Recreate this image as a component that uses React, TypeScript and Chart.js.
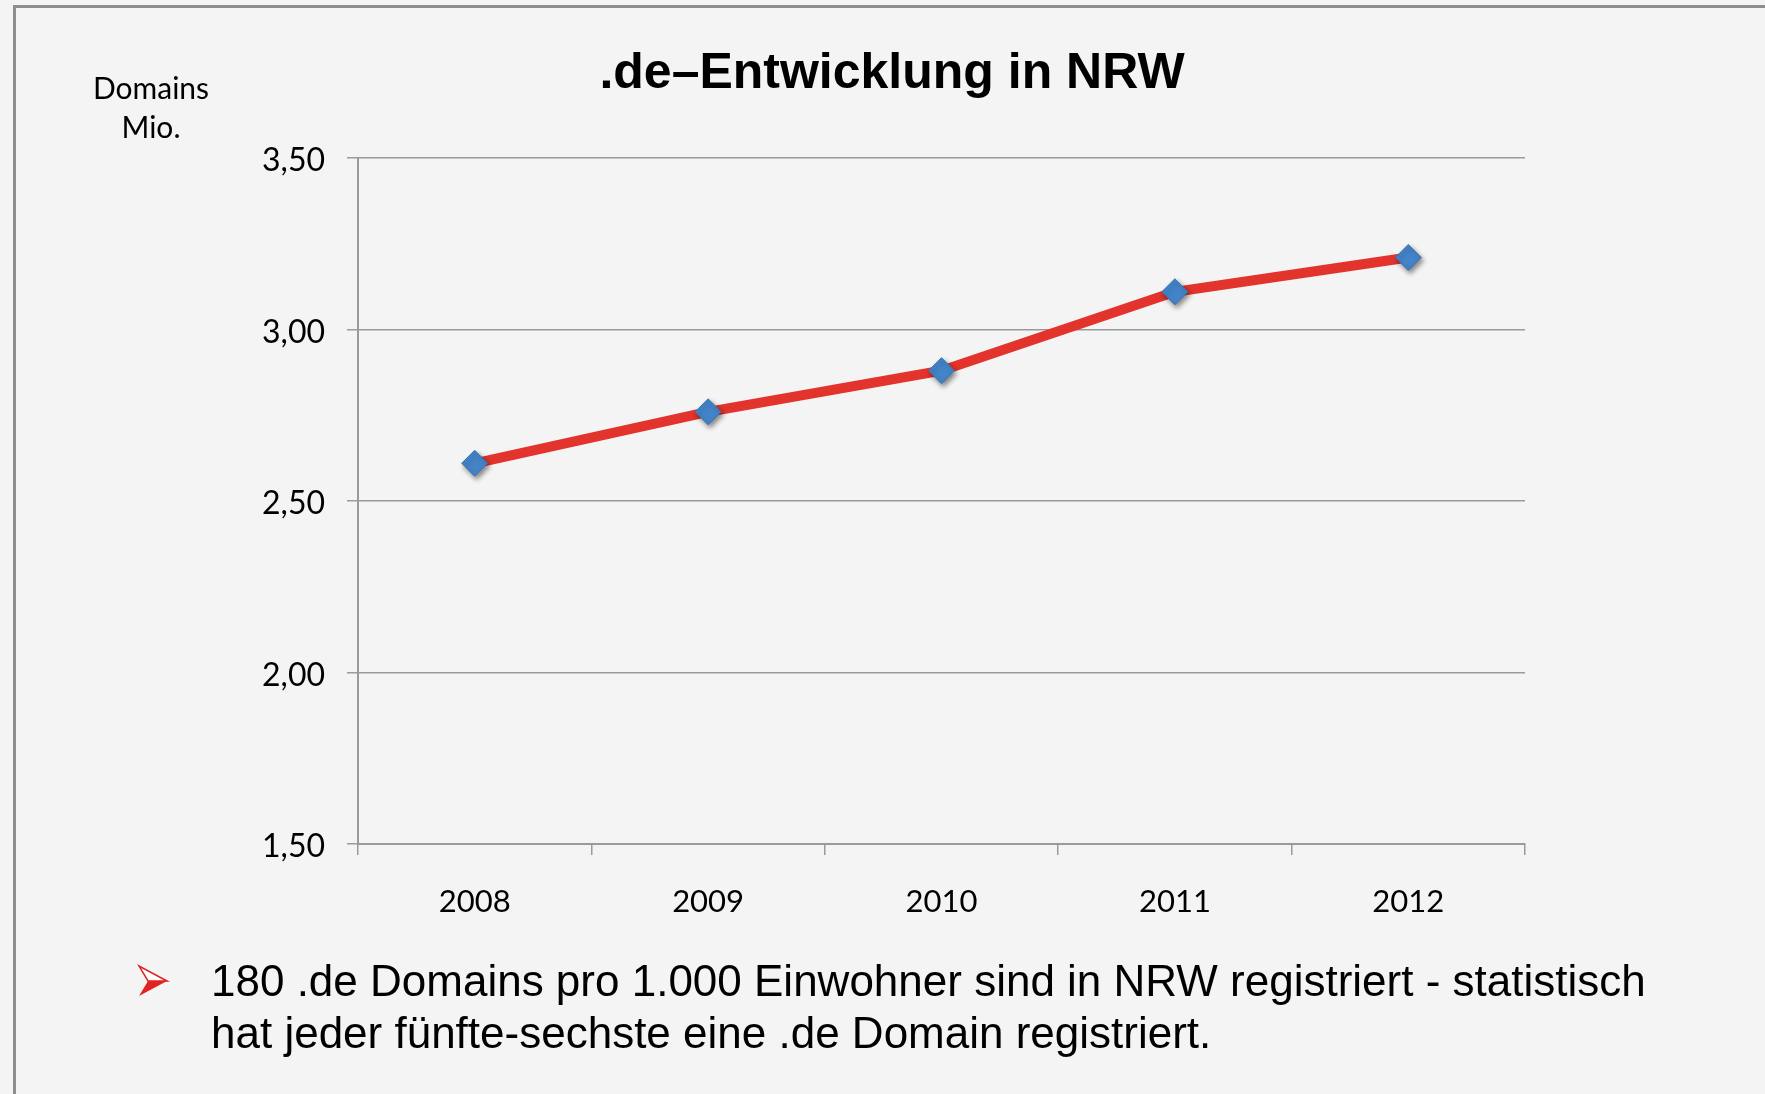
import React, { useEffect, useRef } from 'react';
import { Chart, registerables } from 'chart.js';

Chart.register(...registerables);

// ---- data ----
const years = ['2008', '2009', '2010', '2011', '2012'];
const domainsMio = [2.61, 2.76, 2.88, 3.11, 3.21];
const yTickValues = [1.5, 2.0, 2.5, 3.0, 3.5];
const chartTitle = '.de–Entwicklung in NRW';
const yUnitLines = ['Domains', 'Mio.'];
const noteLines = [
  '180 .de Domains pro 1.000 Einwohner sind in NRW registriert - statistisch',
  'hat jeder fünfte-sechste eine .de Domain registriert.',
];

const W = 1765;
const H = 1094;
const GRID = '#9a9a9a';

const decoPlugin = {
  id: 'deco',
  beforeDraw(chart: any) {
    const ctx = chart.ctx;
    ctx.save();
    ctx.fillStyle = '#f4f4f4';
    ctx.fillRect(0, 0, W, H);
    ctx.strokeStyle = '#8e8e8e';
    ctx.lineWidth = 3;
    ctx.strokeRect(14.5, 6.5, W + 100, H + 100);
    ctx.restore();
  },
  beforeDatasetDraw(chart: any, args: any) {
    if (args.index === 1) {
      const ctx = chart.ctx;
      ctx.save();
      ctx.shadowColor = 'rgba(0,0,0,0.45)';
      ctx.shadowBlur = 5;
      ctx.shadowOffsetX = 2;
      ctx.shadowOffsetY = 3;
    }
  },
  afterDatasetDraw(chart: any, args: any) {
    if (args.index === 1) chart.ctx.restore();
  },
  afterDraw(chart: any) {
    const ctx = chart.ctx;
    ctx.save();
    // title
    ctx.fillStyle = '#000';
    ctx.font = 'bold 50px "Liberation Sans", Arial, sans-serif';
    ctx.textAlign = 'center';
    ctx.textBaseline = 'alphabetic';
    ctx.fillText(chartTitle, 892, 88);
    // unit label
    ctx.font = '30px Lato, sans-serif';
    ctx.textBaseline = 'middle';
    ctx.fillText(yUnitLines[0], 151, 89);
    ctx.fillText(yUnitLines[1], 151, 128);
    // bullet arrow
    const tipX = 167, tipY = 981, lx = 139, top = 966, bot = 996, nx = 148;
    ctx.fillStyle = '#e02424';
    ctx.beginPath();
    ctx.moveTo(tipX, tipY);
    ctx.lineTo(nx, tipY);
    ctx.lineTo(lx, bot);
    ctx.closePath();
    ctx.fill();
    ctx.fillStyle = '#ffffff';
    ctx.strokeStyle = '#e02424';
    ctx.lineWidth = 1.5;
    ctx.beginPath();
    ctx.moveTo(tipX, tipY);
    ctx.lineTo(lx, top);
    ctx.lineTo(nx, tipY);
    ctx.closePath();
    ctx.fill();
    ctx.stroke();
    // note text
    ctx.fillStyle = '#000';
    ctx.font = '44px "Liberation Sans", Arial, sans-serif';
    ctx.textAlign = 'left';
    ctx.textBaseline = 'alphabetic';
    ctx.fillText(noteLines[0], 211, 996);
    ctx.fillText(noteLines[1], 211, 1048);
    ctx.restore();
  },
};

export default function App() {
  const ref = useRef<HTMLCanvasElement | null>(null);

  useEffect(() => {
    document.body.style.margin = '0';
    const canvas = ref.current;
    if (!canvas) return;
    const chart = new Chart(canvas, {
      type: 'line',
      data: {
        labels: years,
        datasets: [
          {
            data: domainsMio,
            borderColor: '#e2332c',
            borderWidth: 10,
            pointRadius: 0,
            tension: 0,
            fill: false,
            order: 1,
            clip: false as any,
          },
          {
            data: domainsMio,
            showLine: false,
            pointStyle: 'rectRot',
            pointRadius: 13,
            pointBackgroundColor: '#4384c8',
            pointBorderColor: '#3a74b6',
            pointBorderWidth: 1,
            order: 0,
            clip: false as any,
          },
        ],
      },
      options: {
        responsive: false,
        animation: false,
        devicePixelRatio: 1,
        layout: { padding: { left: 258, right: 240, top: 158, bottom: 170 } },
        plugins: {
          legend: { display: false },
          title: { display: false },
          tooltip: { enabled: false },
        },
        scales: {
          x: {
            type: 'category',
            offset: true,
            afterFit(scale: any) {
              scale.height = 80;
            },
            grid: {
              offset: true,
              drawOnChartArea: false,
              drawTicks: true,
              tickLength: 11,
              color: GRID,
              lineWidth: 1.5,
            },
            border: { display: true, color: GRID, width: 2 },
            ticks: {
              color: '#000',
              font: { family: 'Lato, sans-serif', size: 31 },
              padding: 28,
              maxRotation: 0,
            },
          },
          y: {
            min: 1.5,
            max: 3.5,
            afterFit(scale: any) {
              scale.width = 100;
            },
            afterBuildTicks(scale: any) {
              scale.ticks = yTickValues.map((v) => ({ value: v }));
            },
            grid: {
              drawOnChartArea: true,
              drawTicks: true,
              tickLength: 11,
              color: GRID,
              lineWidth: 1.5,
            },
            border: { display: true, color: GRID, width: 2 },
            ticks: {
              color: '#000',
              font: { family: 'Lato, sans-serif', size: 32 },
              padding: 22,
              labelOffset: 3,
              callback: (v: any) => Number(v).toFixed(2).replace('.', ','),
            },
          },
        },
      },
      plugins: [decoPlugin],
    });
    return () => chart.destroy();
  }, []);

  return (
    <div style={{ position: 'absolute', left: 0, top: 0, width: W, height: H }}>
      <canvas ref={ref} width={W} height={H} style={{ display: 'block', width: W, height: H }} />
    </div>
  );
}
